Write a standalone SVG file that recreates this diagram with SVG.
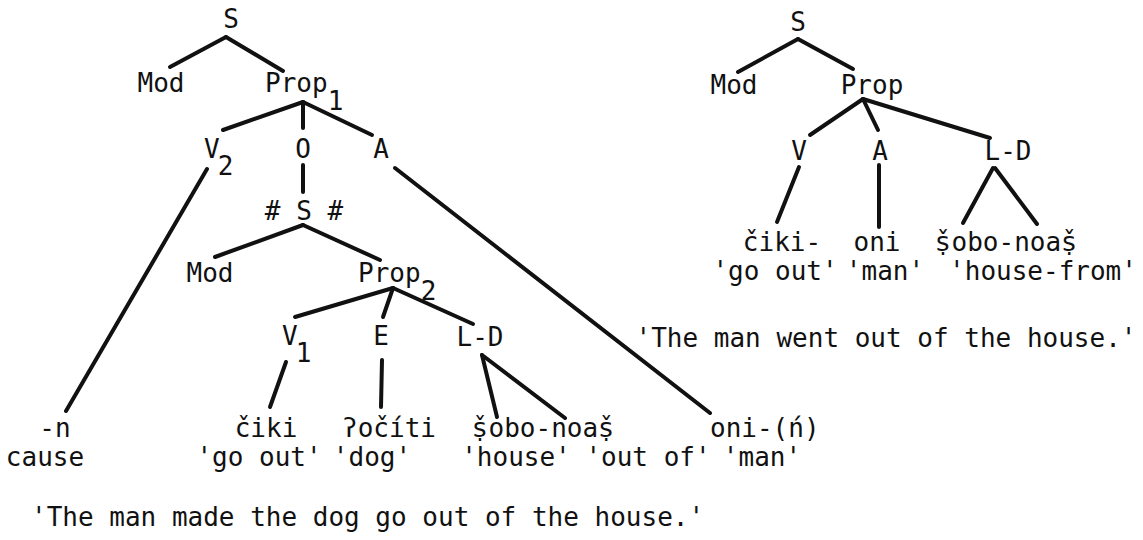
<svg xmlns="http://www.w3.org/2000/svg" width="1143" height="540" viewBox="0 0 1143 540">
<style>
text{font-family:"DejaVu Sans Mono","Liberation Mono",monospace;font-size:26px;fill:#111}
.m{text-anchor:middle}
.d{font-family:"DejaVu Sans","Noto Sans",sans-serif}
.e line{stroke:#111;stroke-width:4;stroke-linecap:round}
</style>
<rect width="1143" height="540" fill="#fff"/>
<g class="e" id="connectors">
<line x1="226" y1="37" x2="170" y2="67"/>
<line x1="226" y1="37" x2="283" y2="71"/>
<line x1="303" y1="102" x2="223" y2="130"/>
<line x1="303" y1="102" x2="303" y2="128"/>
<line x1="303" y1="102" x2="372" y2="135"/>
<line x1="207" y1="169" x2="66" y2="411"/>
<line x1="303" y1="165" x2="303" y2="192"/>
<line x1="395" y1="168" x2="710" y2="413"/>
<line x1="303" y1="225" x2="215" y2="257"/>
<line x1="303" y1="225" x2="380" y2="260"/>
<line x1="393" y1="288" x2="295" y2="317"/>
<line x1="393" y1="288" x2="383" y2="317"/>
<line x1="393" y1="288" x2="473" y2="324"/>
<line x1="286" y1="362" x2="270" y2="407"/>
<line x1="382" y1="360" x2="381" y2="407"/>
<line x1="482" y1="355" x2="497" y2="417"/>
<line x1="482" y1="355" x2="565" y2="418"/>
<line x1="798" y1="39" x2="738" y2="72"/>
<line x1="798" y1="39" x2="853" y2="69"/>
<line x1="863" y1="99" x2="810" y2="135"/>
<line x1="863" y1="99" x2="878" y2="130"/>
<line x1="863" y1="99" x2="990" y2="138"/>
<line x1="799" y1="167" x2="777" y2="222"/>
<line x1="879" y1="165" x2="879" y2="227"/>
<line x1="993" y1="168" x2="963" y2="223"/>
<line x1="995" y1="168" x2="1037" y2="224"/>
</g>
<g id="n-S1"><text class="m" x="231" y="28">S</text></g>
<g id="n-Mod1"><text class="m" x="161" y="92">Mod</text></g>
<g id="n-Prop1"><text x="265" y="92">Prop<tspan dy="18">1</tspan></text></g>
<g id="n-V2"><text x="204" y="158">V<tspan dx="-2" dy="17">2</tspan></text></g>
<g id="n-O"><text class="m" x="303" y="158">O</text></g>
<g id="n-A1"><text class="m" x="381" y="158">A</text></g>
<g id="n-S2"><text class="m" x="304" y="220"># S #</text></g>
<g id="n-Mod2"><text class="m" x="210" y="282">Mod</text></g>
<g id="n-Prop2"><text x="358" y="282">Prop<tspan dy="18">2</tspan></text></g>
<g id="n-V1"><text x="282" y="345">V<tspan dx="-2" dy="17">1</tspan></text></g>
<g id="n-E"><text class="m" x="381" y="345">E</text></g>
<g id="n-LD1"><text class="m" x="480" y="346">L-D</text></g>
<g id="w-n"><text class="m" x="55" y="437">-n</text><text class="m" x="45" y="466">cause</text></g>
<g id="w-ciki1"><text class="m" x="266" y="437">čiki</text><text class="m" x="259" y="466">'go out'</text></g>
<g id="w-ociti"><text class="m" x="389" y="437">ʔočíti</text><text class="m" x="372" y="466">'dog'</text></g>
<g id="w-sobo1"><text x="473" y="437"><tspan class="d">š&#x323;</tspan><tspan dx="2">obo-noa</tspan><tspan class="d" dx="1">š&#x323;</tspan></text><text class="m" x="516" y="466">'house'</text><text class="m" x="648" y="466">'out of'</text></g>
<g id="w-oni1"><text x="710" y="437">oni-(ń)</text><text class="m" x="762" y="466">'man'</text></g>
<g id="s-left"><text x="31" y="526">'The man made the dog go out of the house.'</text></g>
<g id="r-S"><text class="m" x="798" y="31">S</text></g>
<g id="r-Mod"><text class="m" x="734" y="94">Mod</text></g>
<g id="r-Prop"><text class="m" x="872" y="94">Prop</text></g>
<g id="r-V"><text class="m" x="799" y="160">V</text></g>
<g id="r-A"><text class="m" x="880" y="160">A</text></g>
<g id="r-LD"><text class="m" x="1008" y="160">L-D</text></g>
<g id="r-ciki"><text class="m" x="782" y="251">čiki-</text><text class="m" x="775" y="280">'go out'</text></g>
<g id="r-oni"><text class="m" x="877" y="251">oni</text><text class="m" x="885" y="280">'man'</text></g>
<g id="r-sobo"><text x="936" y="251"><tspan class="d">š&#x323;</tspan><tspan dx="2">obo-noa</tspan><tspan class="d" dx="1">š&#x323;</tspan></text><text class="m" x="1043" y="280">'house-from'</text></g>
<g id="s-right"><text class="m" x="886" y="347">'The man went out of the house.'</text></g>
</svg>
